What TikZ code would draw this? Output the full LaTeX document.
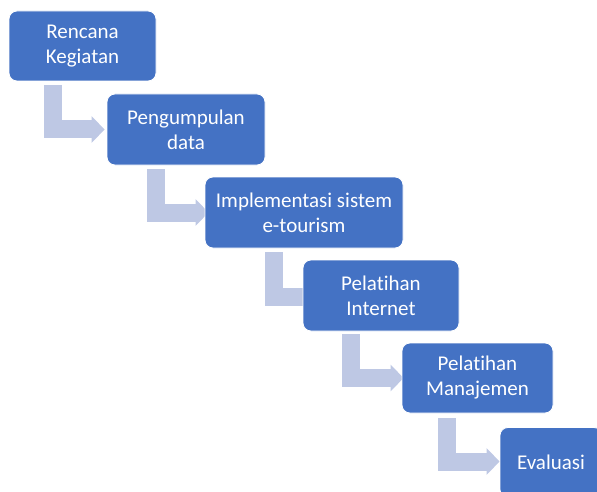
\documentclass[tikz,border=0pt]{standalone}
\usepackage{fontspec}
\setmainfont{Carlito}[Ligatures={NoCommon}]
\usetikzlibrary{arrows.meta,backgrounds}
\definecolor{boxblue}{HTML}{4472C4}
\definecolor{arrowblue}{RGB}{190,200,228}
\tikzset{
  stepbox/.style={rectangle, rounded corners=8pt, fill=boxblue, draw=white, line width=0.8pt,
    text=white, align=center, inner sep=0pt, font=\fontsize{21}{25}\selectfont},
  elbow/.style={draw=arrowblue, line width=18pt, line cap=butt, line join=miter,
    -{Triangle[length=13pt,width=26pt]}}
}
\begin{document}
\begin{tikzpicture}[x=1pt,y=-1pt]
\useasboundingbox (0,0) rectangle (597,492);
\clip (0,0) rectangle (597,492);
% start points of the elbow arrows
\coordinate (s1) at (52.5,85);
\coordinate (s2) at (155.5,169);
\coordinate (s3) at (274,252);
\coordinate (s4) at (351,334);
\coordinate (s5) at (446.5,418);
% boxes (positions only)
\node[stepbox, minimum width=147pt, minimum height=70pt] (b1) at (82.5,46) {Rencana\\Kegiatan};
\node[stepbox, minimum width=158pt, minimum height=71pt] (b2) at (186,129.5) {Pengumpulan\\data};
\node[stepbox, minimum width=198pt, minimum height=71pt] (b3) at (304,212.5) {Implementasi sistem\\e-tourism};
\node[stepbox, minimum width=156pt, minimum height=71pt] (b4) at (381,295.5) {Pelatihan\\Internet};
\node[stepbox, minimum width=151pt, minimum height=70pt] (b5) at (477.5,378) {Pelatihan\\Manajemen};
\node[stepbox, minimum width=102pt, minimum height=70pt] (b6) at (551,462.5) {Evaluasi};
% connectors behind boxes
\begin{scope}[on background layer]
\draw[elbow] (s1) |- ([xshift=-2pt]b2.west);
\draw[elbow] (s2) |- ([xshift=4pt]b3.west);
\draw[elbow] (s3) |- ([xshift=14pt,yshift=-1.5pt]b4.west);
\draw[elbow] (s4) |- ([xshift=2pt]b5.west);
\draw[elbow] (s5) |- ([xshift=0pt,yshift=1pt]b6.west);
\end{scope}
\end{tikzpicture}
\end{document}
